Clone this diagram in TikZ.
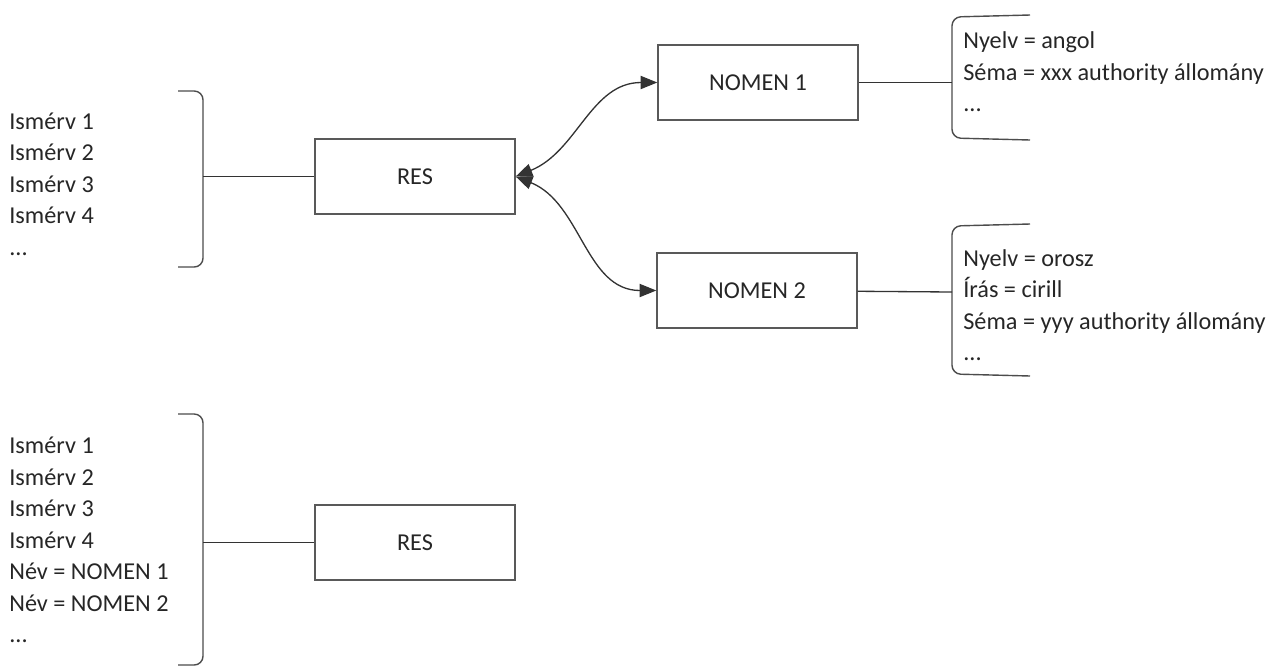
\documentclass[tikz,border=0pt]{standalone}
\usepackage{fontspec}
\setmainfont{Carlito}
\usepackage{tikz}
\usetikzlibrary{arrows.meta,positioning}

\begin{document}
\begin{tikzpicture}[x=0.02cm,y=-0.02cm,>={Triangle[length=9.5pt,width=7.5pt]},
		boxnode/.style={rectangle,draw=black!65,line width=0.8pt,minimum width=4cm,minimum height=1.5cm,text=black!85},
		listnode/.style={rectangle,align=left,inner sep=0pt,anchor=west,text=black!85},
		brace/.style={draw=black!70,line width=0.8pt,rounded corners=5pt},
		link/.style={draw=black!80,line width=0.75pt}]
		\useasboundingbox (0,0) rectangle (1279,667);
		\fontsize{13.8pt}{17.9pt}\selectfont
		\node [boxnode] (res) at (415, 176.5) {RES};
		\node [boxnode] (nomen1) at (758, 82.5) {NOMEN 1};
		\node [boxnode] (nomen2) at (757, 290.5) {NOMEN 2};
		\node [boxnode] (resnew) at (415, 542.5) {RES};
		\node [listnode] (ismerv1) at (9, 184) {Ismérv 1\\Ismérv 2\\Ismérv 3\\Ismérv 4\\...};
		\node [listnode] (attr1) at (963, 72) {Nyelv = angol\\Séma = xxx authority állomány\\...};
		\node [listnode] (attr2) at (963, 305) {Nyelv = orosz\\Írás = cirill\\Séma = yyy authority állomány\\...};
		\node [listnode] (ismerv2) at (9, 540) {Ismérv 1\\Ismérv 2\\Ismérv 3\\Ismérv 4\\Név = NOMEN 1\\Név = NOMEN 2\\...};
		% brackets
		\coordinate (b1) at (203, 176.5);
		\coordinate (b2) at (952, 82.5);
		\coordinate (b3) at (952, 292);
		\coordinate (b4) at (203, 542.5);
		\draw [brace] (178, 91) -- (203, 91) -- (203, 267) -- (178, 267);
		\draw [brace] (1030, 15) -- (952, 17) -- (952, 138) -- (1030, 140);
		\draw [brace] (1030, 224) -- (952, 226) -- (952, 374) -- (1030, 376);
		\draw [brace] (178, 414) -- (203, 414) -- (203, 665) -- (178, 665);
		\draw [link] (b1) -- (res);
		\draw [link] (nomen1) -- (b2);
		\draw [link] (nomen2) -- (b3);
		\draw [link] (b4) -- (resnew);
		% arrows
		\draw [link,<->] (res.east) to[out=22,in=180] (nomen1.west);
		\draw [link,<->] (res.east) to[out=-22,in=180] (nomen2.west);
	\end{tikzpicture}
\end{document}
